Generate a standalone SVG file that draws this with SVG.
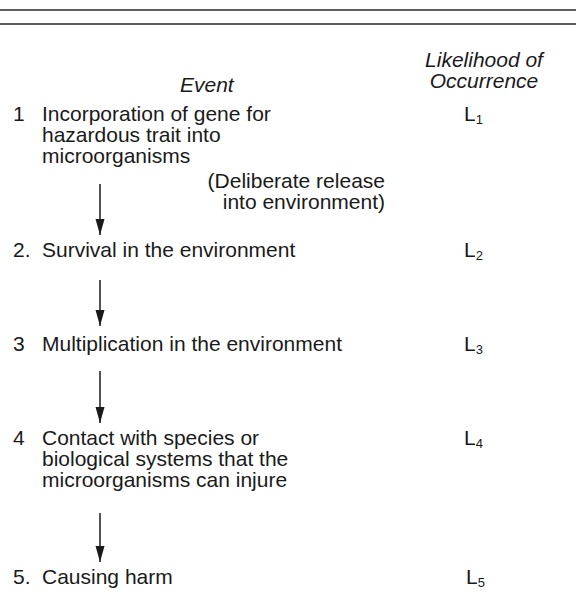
<svg xmlns="http://www.w3.org/2000/svg" width="576" height="594" viewBox="0 0 576 594">
<style>
text{font-family:"Liberation Sans",Arial,sans-serif;font-size:21px;fill:#1a1a1a}
.it{font-style:italic}
.sub{font-size:13px}
.rule{stroke:#2a2a2a;stroke-width:1.5}
.conn line{stroke:#1a1a1a;stroke-width:1.5;marker-end:url(#ah)}
</style>
<defs>
<marker id="ah" markerWidth="17" markerHeight="10" refX="16" refY="5" orient="auto" markerUnits="userSpaceOnUse" viewBox="0 0 17 10">
<path d="M0,0.5 L16,5 L0,9.5 Z" fill="#1a1a1a"/>
</marker>
</defs>
<rect width="576" height="594" fill="#fff"/>
<line class="rule" x1="0" y1="10" x2="576" y2="10"/>
<line class="rule" x1="0" y1="24" x2="576" y2="24"/>
<g id="header">
<text class="it" x="484" y="67" text-anchor="middle">Likelihood of</text>
<text class="it" x="484" y="88" text-anchor="middle">Occurrence</text>
<text class="it" x="180" y="92">Event</text>
</g>
<g id="n1">
<text x="13" y="121">1</text>
<text x="42" y="121">Incorporation of gene for</text>
<text x="42" y="142">hazardous trait into</text>
<text x="42" y="163">microorganisms</text>
<text x="464" y="121">L<tspan class="sub" dy="3">1</tspan></text>
</g>
<g id="note">
<text x="385" y="188" text-anchor="end">(Deliberate release</text>
<text x="385" y="209" text-anchor="end">into environment)</text>
</g>
<g id="n2">
<text x="13" y="257">2.</text>
<text x="42" y="257">Survival in the environment</text>
<text x="464" y="257">L<tspan class="sub" dy="3">2</tspan></text>
</g>
<g id="n3">
<text x="13" y="351">3</text>
<text x="42" y="351">Multiplication in the environment</text>
<text x="464" y="351">L<tspan class="sub" dy="3">3</tspan></text>
</g>
<g id="n4">
<text x="13" y="445">4</text>
<text x="42" y="445">Contact with species or</text>
<text x="42" y="466">biological systems that the</text>
<text x="42" y="487">microorganisms can injure</text>
<text x="464" y="445">L<tspan class="sub" dy="3">4</tspan></text>
</g>
<g id="n5">
<text x="13" y="584">5.</text>
<text x="42" y="584">Causing harm</text>
<text x="466" y="584">L<tspan class="sub" dy="3">5</tspan></text>
</g>
<g id="connectors" class="conn">
<line x1="100" y1="184" x2="100" y2="235"/>
<line x1="100" y1="280" x2="100" y2="326"/>
<line x1="100" y1="371" x2="100" y2="423"/>
<line x1="100" y1="513" x2="100" y2="562"/>
</g>
</svg>
